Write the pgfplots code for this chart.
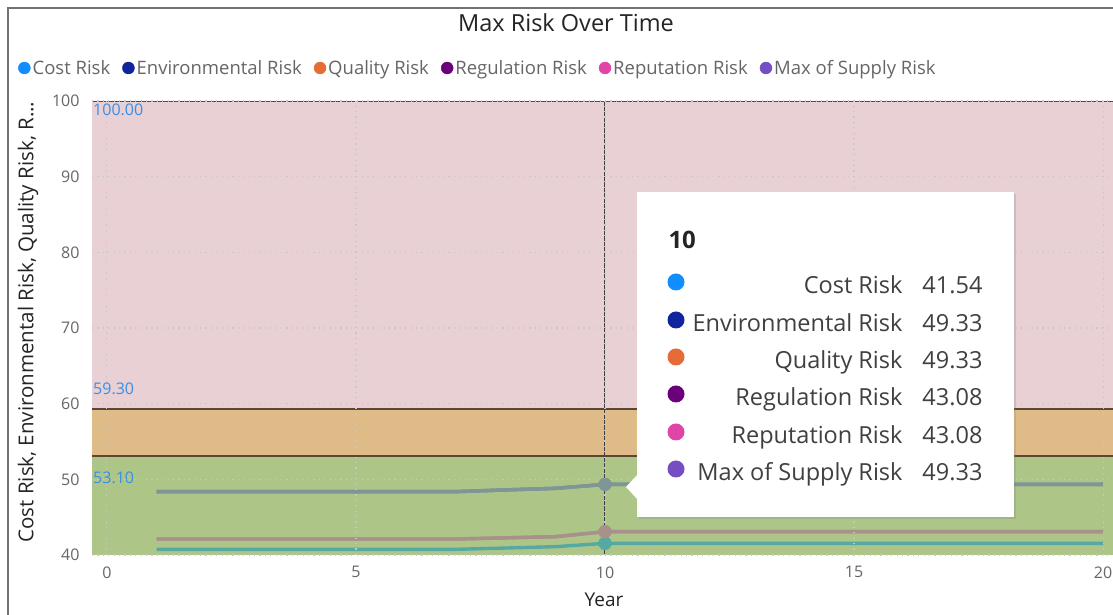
\documentclass[border=0pt]{standalone}
\usepackage{pgfplots}
\pgfplotsset{compat=1.18}
\usepackage{fontspec}
\setmainfont{Open Sans}
\usetikzlibrary{shadows}
\definecolor{pinkband}{HTML}{E9D0D4}
\definecolor{orangeband}{HTML}{DFBB88}
\definecolor{greenband}{HTML}{ADC688}
\definecolor{bandline}{HTML}{5B4636}
\definecolor{tickgray}{HTML}{666666}
\definecolor{titlegray}{HTML}{252423}
\definecolor{lineup}{HTML}{7E9796}
\definecolor{linemid}{HTML}{A8918A}
\definecolor{linelow}{HTML}{56A9A3}
\definecolor{cCost}{HTML}{118DFF}
\definecolor{cEnv}{HTML}{12239E}
\definecolor{cQual}{HTML}{E66C37}
\definecolor{cReg}{HTML}{6B007B}
\definecolor{cRep}{HTML}{E044A7}
\definecolor{cSup}{HTML}{744EC2}
\definecolor{lblblue}{HTML}{3A8EE6}
\pgfplotsset{dotlegend/.style={legend image code/.code={\fill[##1] (6pt,0pt) circle (6pt);}}}
\pgfplotstableread{
x cost env qual reg rep sup
1 40.75 48.37 48.37 42.11 42.11 48.37
2 40.75 48.37 48.37 42.11 42.11 48.37
3 40.75 48.37 48.37 42.11 42.11 48.37
4 40.75 48.37 48.37 42.11 42.11 48.37
5 40.75 48.37 48.37 42.11 42.11 48.37
6 40.75 48.37 48.37 42.11 42.11 48.37
7 40.75 48.37 48.37 42.11 42.11 48.37
8 40.92 48.60 48.60 42.27 42.27 48.60
9 41.10 48.81 48.81 42.42 42.42 48.81
10 41.54 49.33 49.33 43.08 43.08 49.33
11 41.54 49.33 49.33 43.08 43.08 49.33
12 41.54 49.33 49.33 43.08 43.08 49.33
13 41.54 49.33 49.33 43.08 43.08 49.33
14 41.54 49.33 49.33 43.08 43.08 49.33
15 41.54 49.33 49.33 43.08 43.08 49.33
16 41.54 49.33 49.33 43.08 43.08 49.33
17 41.54 49.33 49.33 43.08 43.08 49.33
18 41.54 49.33 49.33 43.08 43.08 49.33
19 41.54 49.33 49.33 43.08 43.08 49.33
20 41.54 49.33 49.33 43.08 43.08 49.33
}\risk
\pgfplotstableread{
x y
10 41.54
}\costpt
\pgfplotstableread{
x y
10 43.08
}\regpt
\pgfplotstableread{
x y
10 49.33
}\envpt
\begin{document}
\begin{tikzpicture}
\useasboundingbox (0pt,0pt) rectangle (1113pt,615pt);
\fill[white] (0pt,0pt) rectangle (1113pt,615pt);
% outer frame
\draw[black!55, line width=1.6pt] (8pt,0pt) -- (8pt,607pt) -- (1113pt,607pt);
% title
\node[font=\fontsize{23.5}{28}\selectfont, text=titlegray] at (566pt,592pt) {Max Risk Over Time};
\begin{axis}[
  at={(92pt,60pt)}, anchor=south west,
  scale only axis, width=1021pt, height=454pt,
  xmin=-0.3, xmax=20.2, ymin=40, ymax=100,
  xtick={0,5,10,15,20}, ytick={40,50,...,100},
  axis line style={draw=none},
  major tick length=0pt,
  axis on top,
  grid=major,
  major grid style={black!22, line width=1.1pt, dash pattern=on 1.2pt off 4.2pt},
  /pgf/number format/assume math mode=true,
  ticklabel style={font=\fontsize{16}{19}\selectfont, text=tickgray},
  yticklabel style={xshift=-9pt},
  xticklabel style={yshift=-8pt},
  dotlegend,
  legend columns=6,
  legend style={at={(-0.0725,1.0727)}, anchor=west, draw=none, fill=none,
    inner sep=0pt, font=\fontsize{18.5}{22}\selectfont, text=tickgray,
    /tikz/every even column/.append style={column sep=10pt},
    nodes={inner sep=2pt}},
  clip=true,
]
% bands
\addplot[fill=greenband, draw=none, forget plot] coordinates {(-0.3,40) (20.2,40) (20.2,53.1) (-0.3,53.1)} -- cycle;
\addplot[fill=orangeband, draw=none, forget plot] coordinates {(-0.3,53.1) (20.2,53.1) (20.2,59.3) (-0.3,59.3)} -- cycle;
\addplot[fill=pinkband, draw=none, forget plot] coordinates {(-0.3,59.3) (20.2,59.3) (20.2,100) (-0.3,100)} -- cycle;
% constant lines
\addplot[bandline, line width=2.6pt, forget plot] coordinates {(-0.3,53.1) (20.2,53.1)};
\addplot[bandline, line width=2.6pt, forget plot] coordinates {(-0.3,59.3) (20.2,59.3)};
\addplot[black!70, line width=1.6pt, forget plot] coordinates {(-0.3,100) (20.2,100)};
% hover line
\addplot[black!75, line width=1pt, forget plot] coordinates {(10,40) (10,100)};
% series
\addplot[linelow, line width=3.4pt, forget plot] table[x=x, y=cost] {\risk};
\addplot[linemid, line width=3.4pt, forget plot] table[x=x, y=reg] {\risk};
\addplot[linemid, line width=3.4pt, forget plot] table[x=x, y=rep] {\risk};
\addplot[lineup, line width=3.4pt, forget plot] table[x=x, y=env] {\risk};
\addplot[lineup, line width=3.4pt, forget plot] table[x=x, y=qual] {\risk};
\addplot[lineup, line width=3.4pt, forget plot] table[x=x, y=sup] {\risk};
\addplot[only marks, mark=*, mark size=6.5pt, color=linelow, forget plot] table {\costpt};
\addplot[only marks, mark=*, mark size=6.5pt, color=linemid, forget plot] table {\regpt};
\addplot[only marks, mark=*, mark size=6.5pt, color=lineup, forget plot] table {\envpt};
% constant line labels
\node[anchor=west, text=lblblue, font=\fontsize{16}{19}\selectfont, inner sep=1pt] at (axis cs:-0.3,98.8) {100.00};
\node[anchor=west, text=lblblue, font=\fontsize{16}{19}\selectfont, inner sep=1pt] at (axis cs:-0.3,62.0) {59.30};
\node[anchor=west, text=lblblue, font=\fontsize{16}{19}\selectfont, inner sep=1pt] at (axis cs:-0.3,50.2) {53.10};
% legend
\addlegendimage{cCost}\addlegendentry{Cost Risk}
\addlegendimage{cEnv}\addlegendentry{Environmental Risk}
\addlegendimage{cQual}\addlegendentry{Quality Risk}
\addlegendimage{cReg}\addlegendentry{Regulation Risk}
\addlegendimage{cRep}\addlegendentry{Reputation Risk}
\addlegendimage{cSup}\addlegendentry{Max of Supply Risk}
\end{axis}
% axis titles
\node[rotate=90, font=\fontsize{20.5}{24}\selectfont, text=titlegray] at (28pt,293pt) {Cost Risk, Environmental Risk, Quality Risk, R...};
\node[font=\fontsize{19}{23}\selectfont, text=titlegray] at (604pt,15pt) {Year};
% tooltip
\fill[white, drop shadow={opacity=0.25, shadow xshift=2pt, shadow yshift=-2pt}] (637pt,98pt) rectangle (1014pt,423pt);
\fill[white] (626pt,128pt) -- (639pt,142pt) -- (639pt,114pt) -- cycle;
\node[anchor=west, font=\bfseries\fontsize{24}{28}\selectfont, text=titlegray] at (665pt,375pt) {10};
\begin{scope}[font=\fontsize{23.5}{27}\selectfont, text=black!75]
\foreach \yy/\cc/\lab/\val in {333/cCost/Cost Risk/41.54, 295/cEnv/Environmental Risk/49.33, 258/cQual/Quality Risk/49.33, 221/cReg/Regulation Risk/43.08, 183/cRep/Reputation Risk/43.08, 146/cSup/Max of Supply Risk/49.33}{
  \fill[\cc] (676pt,\yy pt) circle (8.5pt);
  \node[anchor=base east] at (906pt,\yy pt-12pt) {\lab};
  \node[anchor=base east] at (986pt,\yy pt-12pt) {\val};
}
\end{scope}
\end{tikzpicture}
\end{document}
